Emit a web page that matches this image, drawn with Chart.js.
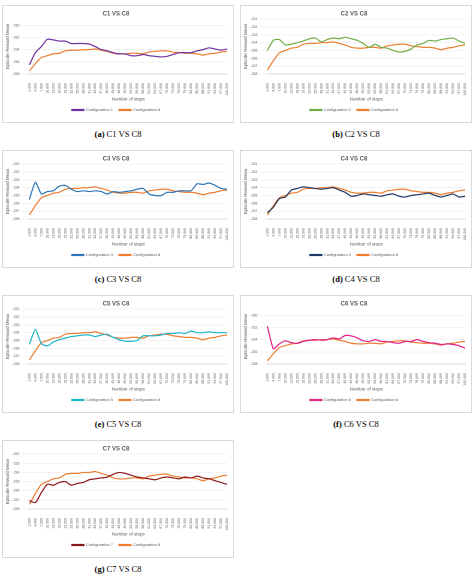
<!DOCTYPE html>
<html>
<head>
<meta charset="utf-8">
<script src="https://cdn.jsdelivr.net/npm/chart.js@4/dist/chart.umd.min.js"></script>
<style>
  body { margin: 0; background: #fff; width: 474px; height: 578px; position: relative; overflow: hidden; }
  .box { position: absolute; width: 232px; height: 118px; border: 1px solid #d9d9d9; box-sizing: border-box; background: #fff; }
  .cap { position: absolute; width: 236px; text-align: center; font-family: "Liberation Serif", serif; font-size: 8.5px; color: #000; }
  .cap b { font-weight: bold; }
</style>
</head>
<body>
<script>
var steps = [];
for (var s = 1000; s <= 100000; s += 3000) steps.push(s.toLocaleString('en-US'));

var c8 = [-237.5, -236.3, -235.3, -235.0, -234.7, -234.6, -234.2, -234.1, -234.1, -234.0, -234.0, -233.9, -234.1, -234.3, -234.6, -234.7, -234.7, -234.6, -234.6, -234.7, -234.4, -234.3, -234.2, -234.2, -234.4, -234.5, -234.6, -234.6, -234.7, -234.9, -234.7, -234.6, -234.4, -234.3];
var c1 = [-236.5, -234.5, -233.5, -232.3, -232.4, -232.6, -232.6, -233.0, -233.0, -233.0, -233.1, -233.5, -234.0, -234.2, -234.5, -234.7, -234.7, -235.0, -235.0, -234.8, -235.0, -235.1, -235.2, -235.1, -234.8, -234.5, -234.5, -234.5, -234.2, -234.0, -233.7, -233.9, -234.1, -233.9];
var c2 = [-235.0, -233.7, -233.6, -234.3, -234.2, -234.0, -233.8, -233.5, -233.4, -233.9, -233.6, -233.4, -233.5, -233.3, -233.5, -233.7, -234.1, -234.6, -234.2, -234.6, -234.7, -235.0, -235.2, -235.1, -234.8, -234.3, -234.1, -233.7, -233.8, -233.6, -233.5, -233.4, -233.8, -234.1];
var c3 = [-235.5, -233.3, -234.8, -234.5, -234.4, -233.8, -233.7, -234.2, -234.5, -234.4, -234.5, -234.4, -234.5, -234.8, -234.5, -234.6, -234.5, -234.4, -234.2, -234.1, -234.8, -235.0, -235.0, -234.6, -234.6, -234.4, -234.4, -234.4, -233.5, -233.6, -233.4, -233.7, -234.1, -234.2];
var c4 = [-237.2, -236.5, -235.4, -235.2, -234.3, -234.1, -233.9, -234.0, -234.1, -234.2, -234.1, -234.0, -234.3, -234.6, -235.1, -235.0, -234.8, -234.9, -235.0, -235.1, -234.9, -234.8, -235.1, -235.2, -235.0, -234.9, -234.8, -234.7, -235.0, -235.2, -235.0, -234.8, -235.2, -235.1];
var c5 = [-235.5, -233.6, -235.4, -235.7, -235.2, -234.9, -234.7, -234.5, -234.4, -234.3, -234.3, -234.5, -234.3, -234.2, -234.6, -234.9, -235.1, -235.1, -235.0, -234.4, -234.4, -234.4, -234.3, -234.1, -234.1, -234.0, -234.1, -233.8, -234.0, -234.0, -233.9, -234.0, -234.0, -234.0];
var c6 = [-231.8, -235.5, -234.7, -234.2, -234.5, -234.6, -234.3, -234.1, -234.0, -234.1, -234.0, -233.7, -233.9, -233.3, -233.4, -233.7, -234.2, -234.3, -234.0, -234.3, -234.3, -234.5, -234.6, -234.3, -234.3, -234.0, -234.3, -234.5, -234.6, -234.8, -234.7, -234.8, -235.0, -235.4];
var c7 = [-237.1, -237.3, -236.2, -235.3, -235.4, -235.1, -235.0, -235.4, -235.2, -235.1, -234.8, -234.7, -234.6, -234.5, -234.2, -234.0, -234.1, -234.3, -234.5, -234.6, -234.7, -234.8, -234.6, -234.5, -234.6, -234.7, -234.5, -234.6, -234.4, -234.6, -234.7, -234.9, -235.1, -235.3];

var panels = [
  { n: 1, data: c1, color: '#7030A0', min: -238, max: -229, x: 2, y: 5 },
  { n: 2, data: c2, color: '#70AD47', min: -238, max: -231, x: 240, y: 5 },
  { n: 3, data: c3, color: '#2E75B6', min: -238, max: -231, x: 2, y: 150 },
  { n: 4, data: c4, color: '#1F3864', min: -238, max: -231, x: 240, y: 150 },
  { n: 5, data: c5, color: '#1FB5C8', min: -238, max: -231, x: 2, y: 295 },
  { n: 6, data: c6, color: '#E0218A', min: -238, max: -229, x: 240, y: 295 },
  { n: 7, data: c7, color: '#8B1A1A', min: -238, max: -232, x: 2, y: 440 }
];
var letters = 'abcdefg';

panels.forEach(function(p, i) {
  var box = document.createElement('div');
  box.className = 'box';
  box.style.left = p.x + 'px';
  box.style.top = p.y + 'px';
  var cv = document.createElement('canvas');
  box.appendChild(cv);
  document.body.appendChild(box);

  var cap = document.createElement('div');
  cap.className = 'cap';
  cap.style.left = (p.x - 2) + 'px';
  cap.style.top = (p.y + 124) + 'px';
  cap.innerHTML = '<b>(' + letters[i] + ')</b> C' + p.n + ' VS C8';
  document.body.appendChild(cap);

  new Chart(cv.getContext('2d'), {
    type: 'line',
    data: {
      labels: steps,
      datasets: [
        { label: 'Configuration ' + p.n, data: p.data, borderColor: p.color, backgroundColor: p.color, borderWidth: 1.2, pointRadius: 0, tension: 0.2 },
        { label: 'Configuration 8', data: c8, borderColor: '#ED7D31', backgroundColor: '#ED7D31', borderWidth: 1.2, pointRadius: 0, tension: 0.2 }
      ]
    },
    options: {
      responsive: true,
      maintainAspectRatio: false,
      animation: false,
      devicePixelRatio: 2,
      layout: { padding: { left: 2, right: 6, top: 0, bottom: 0 } },
      plugins: {
        title: { display: true, text: 'C' + p.n + ' VS C8', color: '#595959', font: { size: 6 }, padding: { top: 4, bottom: 2 } },
        legend: {
          position: 'bottom',
          labels: { boxWidth: 12, boxHeight: 1, padding: 6, color: '#595959', font: { size: 4 } }
        },
        tooltip: { enabled: false }
      },
      scales: {
        x: {
          grid: { display: false },
          border: { color: '#d9d9d9' },
          title: { display: true, text: 'Number of steps', color: '#595959', font: { size: 4.5 }, padding: 0 },
          ticks: { color: '#595959', font: { size: 3.5 }, maxRotation: 90, minRotation: 90, autoSkip: false, padding: 1 }
        },
        y: {
          min: p.min,
          max: p.max,
          grid: { color: '#e6e6e6', lineWidth: 0.5 },
          border: { display: false },
          title: { display: true, text: 'Episode Reward Mean', color: '#595959', font: { size: 4.5 }, padding: 0 },
          ticks: { stepSize: 1, color: '#595959', font: { size: 3.5 }, padding: 2 }
        }
      }
    }
  });
});
</script>
</body>
</html>
